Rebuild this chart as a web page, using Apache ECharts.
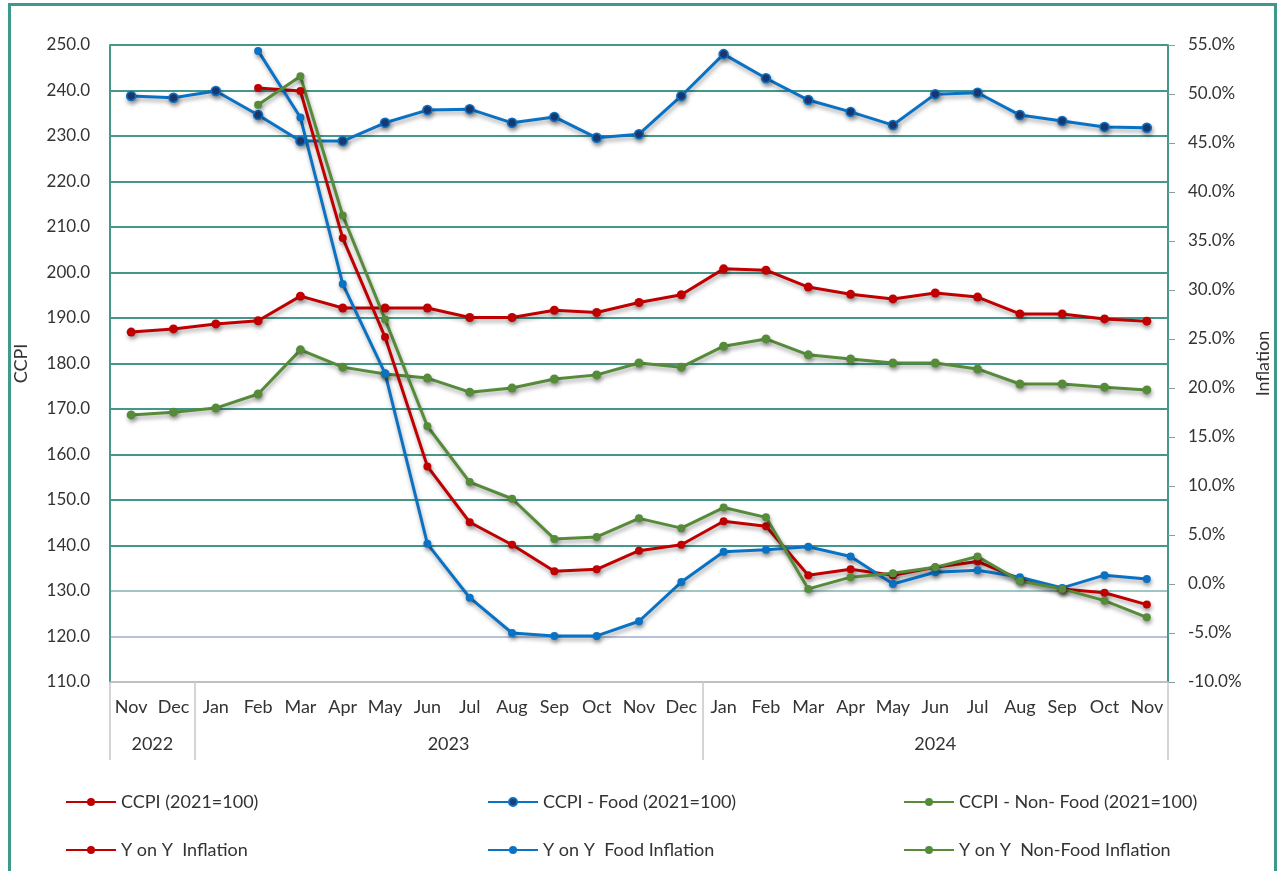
<!DOCTYPE html>
<html>
<head>
<meta charset="utf-8">
<script src="https://cdn.jsdelivr.net/npm/echarts@6/dist/echarts.min.js"></script>
<style>
html,body{margin:0;padding:0;background:#fff;}
#chart{width:1280px;height:871px;}
</style>
</head>
<body>
<div id="chart"></div>
<script>
// ---- data ----
const months = ['Nov','Dec','Jan','Feb','Mar','Apr','May','Jun','Jul','Aug','Sep','Oct','Nov','Dec',
                'Jan','Feb','Mar','Apr','May','Jun','Jul','Aug','Sep','Oct','Nov'];
const monthYears = ['2022','2022','2023','2023','2023','2023','2023','2023','2023','2023','2023','2023','2023','2023',
                    '2024','2024','2024','2024','2024','2024','2024','2024','2024','2024','2024'];
const ccpi = [186.9,187.6,188.7,189.4,194.8,192.2,192.2,192.2,190.1,190.1,191.7,191.2,193.4,195.1,
              200.8,200.5,196.8,195.2,194.2,195.5,194.6,190.9,190.9,189.8,189.3];
const ccpiFood = [238.8,238.4,239.9,234.6,228.9,228.9,232.9,235.7,235.9,232.9,234.2,229.6,230.4,238.8,
                  248.0,242.7,237.9,235.3,232.4,239.2,239.5,234.6,233.3,232.0,231.8];
const ccpiNonFood = [168.7,169.3,170.2,173.3,183.0,179.2,177.7,176.8,173.7,174.6,176.6,177.5,180.1,179.2,
                     183.8,185.4,181.9,181.0,180.1,180.1,178.8,175.5,175.5,174.8,174.2];
const yoyInflation = [null,null,null,50.6,50.3,35.3,25.2,12.0,6.3,4.0,1.3,1.5,3.4,4.0,
                      6.4,5.9,0.9,1.5,0.9,1.7,2.3,0.5,-0.5,-0.9,-2.1];
const yoyFood = [null,null,null,54.4,47.6,30.6,21.5,4.1,-1.4,-5.0,-5.3,-5.3,-3.8,0.2,
                 3.3,3.5,3.8,2.8,0.0,1.2,1.4,0.7,-0.4,0.9,0.5];
const yoyNonFood = [null,null,null,48.9,51.8,37.6,27.0,16.1,10.4,8.7,4.6,4.8,6.7,5.7,
                    7.8,6.8,-0.5,0.7,1.1,1.7,2.8,0.3,-0.5,-1.7,-3.4];
const seriesNames = ['CCPI (2021=100)','CCPI - Food (2021=100)','CCPI - Non- Food (2021=100)',
                     'Y on Y  Inflation','Y on Y  Food Inflation','Y on Y  Non-Food Inflation'];

// ---- derive year groups from category years ----
const groups = [];
monthYears.forEach((y, i) => {
  if (!groups.length || groups[groups.length - 1].year !== y) groups.push({year: y, start: i, end: i});
  else groups[groups.length - 1].end = i;
});
const groupBounds = [groups[0].start - 0.5].concat(groups.map(g => g.end + 0.5));
const groupCenters = groups.map(g => (g.start + g.end) / 2);
function yearAt(v) {
  const g = groups.find(g => Math.abs((g.start + g.end) / 2 - v) < 1e-6);
  return g ? g.year : '';
}

const RED = '#c00000', BLUE = '#0a72c4', GREEN = '#568b3a', NAVY = '#1d3c78';
const TEAL = '#45978c';
const shadow = {shadowColor: 'rgba(0,0,0,0.35)', shadowBlur: 4, shadowOffsetX: 1, shadowOffsetY: 3};
const FONT = 'Lato';
const textColor = '#333333';

function mkSeries(name, data, color, yIdx, markerFill, size) {
  return {
    name: name, type: 'line', data: data, xAxisIndex: 0, yAxisIndex: yIdx,
    symbol: 'circle', symbolSize: size, connectNulls: false,
    lineStyle: Object.assign({color: color, width: 3}, shadow),
    itemStyle: Object.assign({color: markerFill, borderColor: color, borderWidth: markerFill === color ? 0 : 1.5}, shadow),
    emphasis: {disabled: true},
    animation: false
  };
}

const splitColors = ['#c4c4c4', '#b8c0dc', '#a0c6c3'];
for (let i = 0; i < 12; i++) splitColors.push(TEAL);

const legendCols = [60, 482, 898];
const legendRows = [788, 836];
const legends = seriesNames.map((n, i) => ({
  data: [n], left: legendCols[i % 3], top: legendRows[Math.floor(i / 3)],
  itemWidth: 50, itemHeight: 10, itemGap: 5,
  textStyle: {fontFamily: FONT, fontSize: 18, color: textColor},
  selectedMode: false
}));

const chart = echarts.init(document.getElementById('chart'), null, {renderer: 'canvas'});
chart.setOption({
  backgroundColor: '#fff',
  animation: false,
  grid: {left: 110, right: 108, top: 45, bottom: 189, containLabel: false},
  legend: legends,
  graphic: [{
    type: 'rect', z: -10, silent: true,
    shape: {x: 9.5, y: 4.5, width: 1266, height: 900},
    style: {fill: 'none', stroke: '#3d9a8b', lineWidth: 3}
  }],
  xAxis: [{
    type: 'category', data: months, position: 'bottom', boundaryGap: true,
    axisLine: {show: true, onZero: false, lineStyle: {color: '#bfbfbf', width: 1.5}},
    axisTick: {show: false},
    axisLabel: {fontFamily: FONT, fontSize: 18, color: textColor, margin: 16, interval: 0},
    splitLine: {show: false}
  }, {
    type: 'value', position: 'bottom', min: -0.5, max: 24.5,
    axisLine: {show: false, onZero: false},
    axisTick: {show: true, customValues: groupBounds, length: 78, lineStyle: {color: '#c8c8c8', width: 1.5}},
    axisLabel: {show: true, customValues: groupCenters, formatter: v => yearAt(v),
                fontFamily: FONT, fontSize: 18, color: textColor, margin: 53},
    splitLine: {show: false}
  }],
  yAxis: [{
    type: 'value', min: 110, max: 250, interval: 10, position: 'left',
    name: 'CCPI', nameLocation: 'middle', nameGap: 80, nameRotate: 90,
    nameTextStyle: {fontFamily: FONT, fontSize: 18, color: textColor},
    axisLine: {show: true, onZero: false, lineStyle: {color: TEAL, width: 2}},
    axisTick: {show: false},
    axisLabel: {formatter: v => v.toFixed(1), fontFamily: FONT, fontSize: 17, color: textColor, margin: 20},
    splitLine: {show: true, lineStyle: {color: splitColors, width: 2}}
  }, {
    type: 'value', min: -10, max: 55, interval: 5, position: 'right',
    name: 'Inflation', nameLocation: 'middle', nameGap: 86, nameRotate: 90,
    nameTextStyle: {fontFamily: FONT, fontSize: 18, color: textColor},
    axisLine: {show: true, onZero: false, lineStyle: {color: TEAL, width: 2}},
    axisTick: {show: true, length: 7, lineStyle: {color: '#8c9c9a', width: 1}},
    axisLabel: {formatter: v => v.toFixed(1) + '%', fontFamily: FONT, fontSize: 17, color: textColor, margin: 20},
    splitLine: {show: false}
  }],
  series: [
    mkSeries(seriesNames[0], ccpi, RED, 0, RED, 9),
    mkSeries(seriesNames[1], ccpiFood, BLUE, 0, NAVY, 9),
    mkSeries(seriesNames[2], ccpiNonFood, GREEN, 0, GREEN, 9),
    mkSeries(seriesNames[3], yoyInflation, RED, 1, RED, 8),
    mkSeries(seriesNames[4], yoyFood, BLUE, 1, BLUE, 8),
    mkSeries(seriesNames[5], yoyNonFood, GREEN, 1, GREEN, 8)
  ]
});
</script>
</body>
</html>
